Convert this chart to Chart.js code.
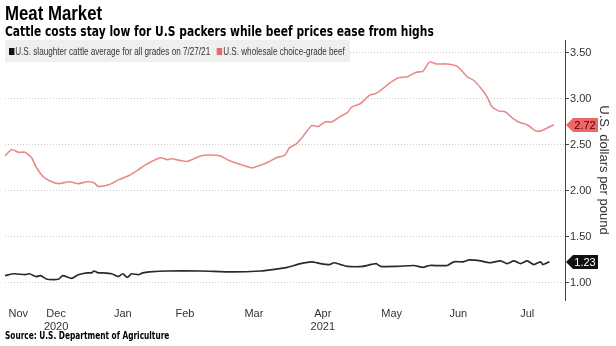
<!DOCTYPE html>
<html lang="en">
<head>
  <meta charset="UTF-8">
  <title>Meat Market</title>
  <script src="https://cdn.jsdelivr.net/npm/chart.js"></script>
  <style>
    body { margin: 0; background: #fff; }
    #wrap { position: relative; width: 616px; height: 346px; overflow: hidden; font-family: "Liberation Sans", Arial, sans-serif; }
    #chart { position: absolute; left: 0; top: 0; }
    .squeeze { transform-origin: 0 0; white-space: nowrap; }
    .title { position: absolute; left: 5px; top: 1px; font-size: 21px; font-weight: bold; color: #000; transform: scaleX(0.8); }
    .subtitle { position: absolute; left: 5px; top: 23px; font-size: 14px; font-weight: bold; color: #000; font-family: "DejaVu Sans", sans-serif; transform: scaleX(0.765); }
    .legendbox { position: absolute; left: 5px; top: 40px; width: 345px; height: 22px; background: #efefef; }
    .legend { position: absolute; left: 9px; top: 41px; font-size: 10.5px; color: #333; line-height: 20px; transform: scaleX(0.775); }
    .legend span.sw { display: inline-block; width: 7px; height: 7px; margin-right: 1px; }
    .source { position: absolute; left: 5px; top: 330px; font-size: 10px; font-weight: bold; color: #000; font-family: "DejaVu Sans", sans-serif; transform: scaleX(0.74); }
  </style>
</head>
<body>
<div id="wrap">
  <canvas id="chart" width="616" height="346"></canvas>
  <div class="title squeeze">Meat Market</div>
  <div class="subtitle squeeze">Cattle costs stay low for U.S packers while beef prices ease from highs</div>
  <div class="legendbox"></div>
  <div class="legend squeeze"><span class="sw" style="background:#111"></span>U.S. slaughter cattle average for all grades on 7/27/21&nbsp;&nbsp;&nbsp;<span class="sw" style="background:#e86b6b"></span>U.S. wholesale choice-grade beef</div>
  <div class="source squeeze">Source: U.S. Department of Agriculture</div>
</div>

<script>
  // days counted from 1 Nov 2020
  const beefDays = [21,24,27,30,33,35,38,41,45,50,54,58,61,63,68,72,77,81,84,87,91,94,96,100,103,109,113,118,121,123,128,132,136,140,143,147,149,152,155,159,162,165,168,172,175,177,181,185,188,193,194,198,202,206,209,212,215,220,224,226,229,232,235,238,240,243,246,249,252,256,260,263,268];
  const beefValues = [2.38,2.45,2.42,2.42,2.36,2.26,2.16,2.11,2.08,2.10,2.08,2.10,2.09,2.05,2.07,2.12,2.17,2.23,2.28,2.32,2.36,2.34,2.35,2.33,2.32,2.38,2.39,2.38,2.34,2.32,2.28,2.25,2.28,2.32,2.36,2.39,2.47,2.51,2.59,2.71,2.70,2.75,2.75,2.81,2.85,2.91,2.95,3.04,3.06,3.15,3.17,3.23,3.24,3.29,3.30,3.40,3.38,3.38,3.36,3.32,3.24,3.20,3.12,3.02,2.92,2.87,2.86,2.80,2.75,2.72,2.65,2.66,2.72];

  const cattleDays = [21,25,30,32,35,37,40,45,47,51,54,58,60,61,63,65,69,72,74,76,78,81,83,86,94,109,123,136,143,148,154,159,163,167,169,172,175,182,188,190,197,205,209,212,220,223,227,230,235,239,244,247,250,253,256,259,262,263,266];
  const cattleValues = [1.08,1.10,1.09,1.10,1.07,1.08,1.04,1.04,1.08,1.05,1.09,1.11,1.11,1.13,1.11,1.11,1.10,1.07,1.10,1.06,1.10,1.09,1.11,1.12,1.13,1.13,1.12,1.13,1.15,1.17,1.21,1.23,1.21,1.20,1.22,1.20,1.18,1.18,1.21,1.18,1.18,1.19,1.17,1.19,1.19,1.23,1.23,1.25,1.24,1.22,1.24,1.21,1.24,1.21,1.24,1.20,1.23,1.20,1.23];

  const monthTicks = [27,44,74,102,133,164,195,225,256];
  const monthLabels = ['Nov','Dec','Jan','Feb','Mar','Apr','May','Jun','Jul'];
  const yearLabels = ['', '2020', '', '', '', '2021', '', '', ''];
  const priceTicks = [1.00,1.50,2.00,2.50,3.00,3.50];

  const toPoints = (xs, ys) => xs.map((x, i) => ({ x: x, y: ys[i] }));

  // little arrow badges with the last value, on the right axis
  const lastValueTags = {
    id: 'lastValueTags',
    afterDraw(chart) {
      const ctx = chart.ctx;
      const yScale = chart.scales.y;
      const x0 = chart.chartArea.right + 1;
      chart.data.datasets.forEach(ds => {
        const v = ds.data[ds.data.length - 1].y;
        const y = Math.round(yScale.getPixelForValue(v));
        ctx.save();
        ctx.beginPath();
        ctx.moveTo(x0, y);
        ctx.lineTo(x0 + 7, y - 7);
        ctx.lineTo(x0 + 32, y - 7);
        ctx.lineTo(x0 + 32, y + 7);
        ctx.lineTo(x0 + 7, y + 7);
        ctx.closePath();
        ctx.fillStyle = ds.tagColor;
        ctx.fill();
        ctx.fillStyle = ds.tagText;
        ctx.font = '11px "Liberation Sans", Arial, sans-serif';
        ctx.textAlign = 'center';
        ctx.textBaseline = 'middle';
        ctx.fillText(v.toFixed(2), x0 + 19, y + 1);
        ctx.restore();
      });
    }
  };

  new Chart(document.getElementById('chart'), {
    type: 'line',
    data: {
      datasets: [
        {
          label: 'U.S. slaughter cattle average for all grades on 7/27/21',
          data: toPoints(cattleDays, cattleValues),
          borderColor: '#2a2a2a',
          borderWidth: 1.7,
          pointRadius: 0,
          tension: 0.2,
          tagColor: '#111111',
          tagText: '#ffffff'
        },
        {
          label: 'U.S. wholesale choice-grade beef',
          data: toPoints(beefDays, beefValues),
          borderColor: '#e88a8a',
          borderWidth: 1.6,
          pointRadius: 0,
          tension: 0.2,
          tagColor: '#ee6666',
          tagText: '#4a0000'
        }
      ]
    },
    options: {
      responsive: false,
      animation: false,
      layout: { padding: { left: 5, top: 40, right: 0, bottom: 0 } },
      plugins: {
        legend: { display: false },
        tooltip: { enabled: false }
      },
      scales: {
        x: {
          type: 'linear',
          min: 21,
          max: 273,
          afterBuildTicks: s => { s.ticks = monthTicks.map(v => ({ value: v })); },
          afterFit: s => { s.height = 46; },
          grid: { display: false },
          border: { display: false },
          ticks: {
            autoSkip: false,
            maxRotation: 0,
            padding: -1,
            color: '#333',
            font: { size: 11, family: '"Liberation Sans", Arial, sans-serif' },
            callback: (v, i) => yearLabels[i] ? [monthLabels[i], yearLabels[i]] : monthLabels[i]
          }
        },
        y: {
          position: 'right',
          min: 0.815,
          max: 3.64,
          afterBuildTicks: s => { s.ticks = priceTicks.map(v => ({ value: v })); },
          afterFit: s => { s.width = 51; },
          grid: {
            color: '#cccccc',
            lineWidth: 1,
            tickLength: 4,
            tickColor: '#444',
            tickWidth: 1
          },
          border: { display: true, color: '#444', width: 1, dash: [1, 2] },
          ticks: {
            padding: 1,
            color: '#333',
            font: { size: 11, family: '"Liberation Sans", Arial, sans-serif' },
            callback: v => v.toFixed(2)
          },
          title: {
            display: true,
            text: 'U.S. dollars per pound',
            color: '#333',
            padding: { top: 5, bottom: 0 },
            font: { size: 13, family: '"Liberation Sans", Arial, sans-serif' }
          }
        }
      }
    },
    plugins: [lastValueTags]
  });
</script>
</body>
</html>
